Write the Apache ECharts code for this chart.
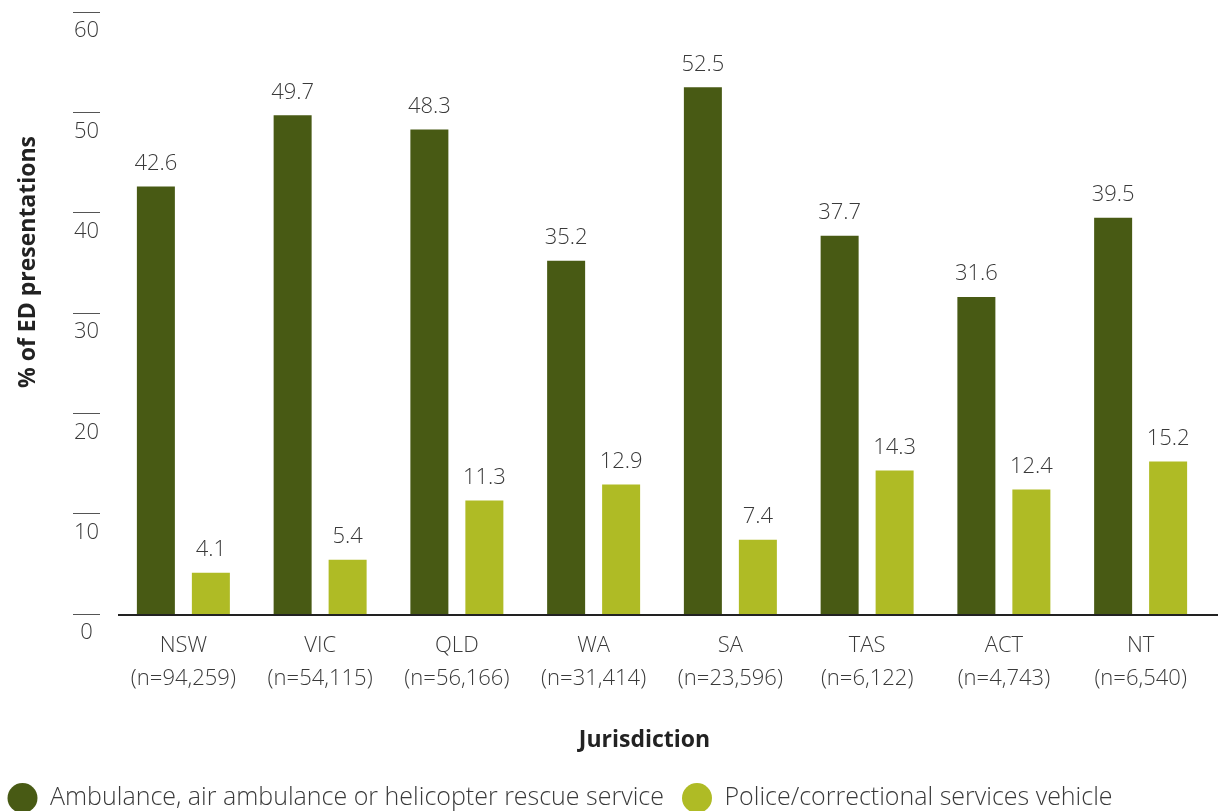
<!DOCTYPE html>
<html>
<head>
<meta charset="utf-8">
<script src="https://cdn.jsdelivr.net/npm/echarts@6/dist/echarts.min.js"></script>
<style>
html,body{margin:0;padding:0;background:#fff;}
#c{width:1218px;height:811px;}
</style>
</head>
<body>
<div id="c"></div>
<script>
const categories = ['NSW\n(n=94,259)','VIC\n(n=54,115)','QLD\n(n=56,166)','WA\n(n=31,414)','SA\n(n=23,596)','TAS\n(n=6,122)','ACT\n(n=4,743)','NT\n(n=6,540)'];
const seriesNames = ['Ambulance, air ambulance or helicopter rescue service','Police/correctional services vehicle'];
const ambulance = [42.6, 49.7, 48.3, 35.2, 52.5, 37.7, 31.6, 39.5];
const police = [4.1, 5.4, 11.3, 12.9, 7.4, 14.3, 12.4, 15.2];
const yMin = 0, yMax = 60, yInterval = 10;

const FONT = '"Open Sans", "Noto Sans", sans-serif';
const TXT = '#3a3a3a';
const DARK = '#485a14';
const LIGHT = '#afbb25';

const legendCommon = {
  top:783, padding:0, itemWidth:45, itemHeight:30, icon:'circle',
  textStyle:{fontSize:25, color:TXT, fontFamily:FONT, fontWeight:300}
};

const chart = echarts.init(document.getElementById('c'), null, {renderer:'canvas'});
chart.setOption({
  animation:false,
  textStyle:{fontFamily:FONT},
  grid:{left:115, top:12, width:1094, height:602, containLabel:false, outerBoundsMode:'none'},
  legend:[
    Object.assign({left:7.5, data:[seriesNames[0]]}, legendCommon),
    Object.assign({left:682, data:[seriesNames[1]]}, legendCommon)
  ],
  xAxis:{
    type:'category', data:categories,
    axisLine:{show:false}, axisTick:{show:false},
    axisLabel:{fontSize:22, lineHeight:33, color:TXT, margin:15, fontWeight:300, fontFamily:FONT},
    name:'Jurisdiction', nameLocation:'middle', nameGap:115,
    nameTextStyle:{fontSize:23, fontWeight:'bold', color:'#222', padding:[0,35,0,0], fontFamily:FONT}
  },
  yAxis:{
    type:'value', min:yMin, max:yMax, interval:yInterval, offset:15,
    axisLine:{show:false},
    axisTick:{show:true, length:27, lineStyle:{color:'#555', width:1}},
    splitLine:{show:false},
    axisLabel:{fontSize:22, color:TXT, align:'center', verticalAlign:'top', margin:13.5, padding:[8,0,0,0], fontWeight:300, fontFamily:FONT},
    name:'% of ED presentations', nameLocation:'middle', nameGap:60, nameRotate:90,
    nameTextStyle:{fontSize:23, fontWeight:'bold', color:'#222', padding:[0,0,0,102], fontFamily:FONT}
  },
  series:[
    {name:seriesNames[0], type:'bar', data:ambulance, barWidth:38, barGap:'44.7%', itemStyle:{color:DARK},
     label:{show:true, position:'top', distance:12, fontSize:22, color:TXT, fontWeight:300, fontFamily:FONT}},
    {name:seriesNames[1], type:'bar', data:police, barWidth:38, itemStyle:{color:LIGHT},
     label:{show:true, position:'top', distance:12, fontSize:22, color:TXT, fontWeight:300, fontFamily:FONT}}
  ],
  graphic:[{type:'line', silent:true, shape:{x1:118,y1:615,x2:1218,y2:615}, style:{stroke:'#222', lineWidth:2}}]
});
</script>
</body>
</html>
